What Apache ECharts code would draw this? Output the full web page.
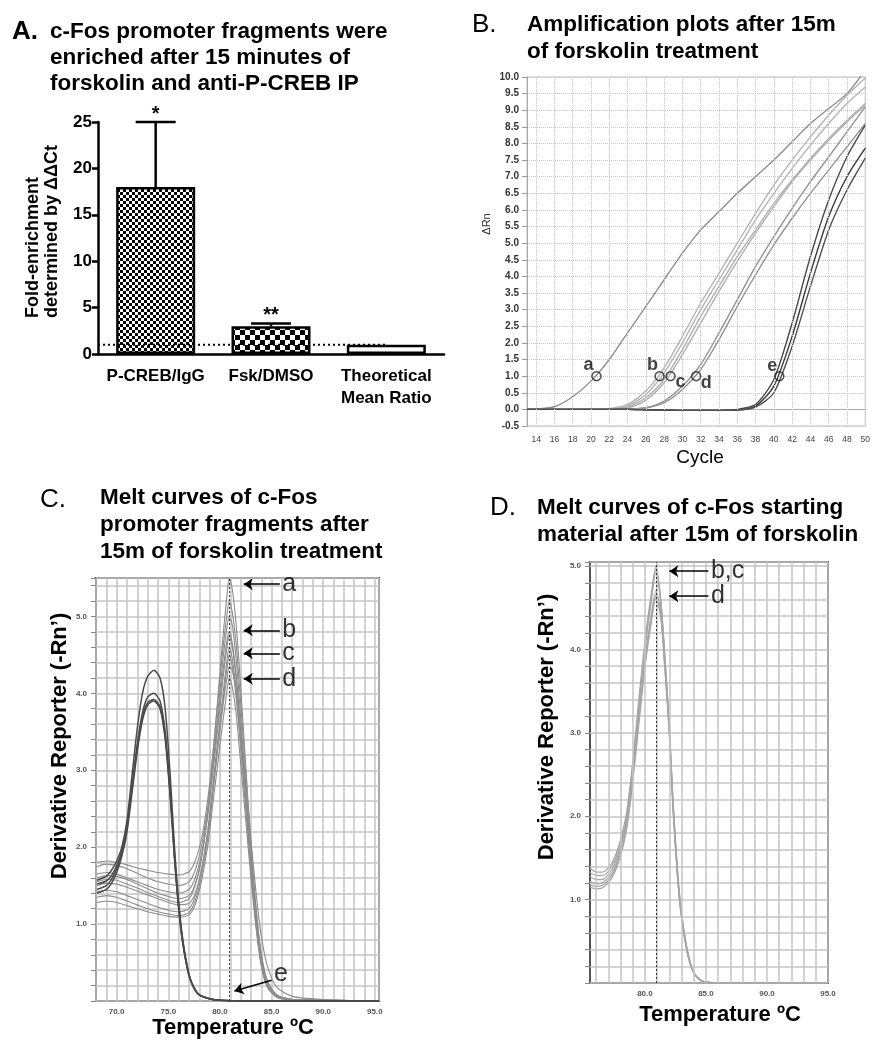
<!DOCTYPE html>
<html><head><meta charset="utf-8">
<script src="https://cdn.jsdelivr.net/npm/echarts@6/dist/echarts.min.js"></script>
<style>html,body{margin:0;padding:0;background:#fff}#c{width:873px;height:1050px}</style>
</head><body><div id="c"></div>
<script>
// ---------- Panel A data ----------
const catA = ['P-CREB/IgG', 'Fsk/DMSO', 'Theoretical\nMean Ratio'];
const valA = [18, 3, 1];
const errHiA = [25, 3.3, null];
const starA = ['*', '**', ''];
const refLineA = 1;

// ---------- Panel B data (amplification) ----------
const cycB = [13, 14, 16, 18, 20, 22, 24, 26, 28, 30, 32, 34, 36, 38, 40, 42, 44, 46, 48, 50];
const ampA  = [0, 0.01, 0.08, 0.38, 0.85, 1.5, 2.3, 3.1, 3.9, 4.7, 5.4, 5.95, 6.5, 7.0, 7.5, 8.05, 8.6, 9.05, 9.5, 10.2];
const ampB1 = [0, 0, 0, 0, 0, 0.02, 0.15, 0.55, 1.25, 2.2, 3.2, 4.1, 5.0, 5.9, 6.75, 7.5, 8.2, 8.85, 9.45, 9.97];
const ampB2 = [0, 0, 0, 0, 0, 0.01, 0.1, 0.45, 1.1, 2.0, 3.0, 3.9, 4.8, 5.7, 6.5, 7.25, 7.95, 8.6, 9.2, 9.7];
const ampC1 = [0, 0, 0, 0, 0, 0.01, 0.06, 0.35, 0.9, 1.8, 2.8, 3.7, 4.6, 5.4, 6.2, 6.9, 7.55, 8.15, 8.7, 9.2];
const ampC2 = [0, 0, 0, 0, 0, 0, 0.04, 0.28, 0.8, 1.65, 2.6, 3.55, 4.45, 5.3, 6.1, 6.85, 7.5, 8.1, 8.65, 9.15];
const ampD1 = [0, 0, 0, 0, 0, 0, 0.01, 0.05, 0.25, 0.7, 1.35, 2.3, 3.3, 4.3, 5.2, 6.05, 6.85, 7.6, 8.35, 9.1];
const ampD2 = [0, 0, 0, 0, 0, 0, 0.01, 0.04, 0.2, 0.6, 1.2, 2.1, 3.1, 4.05, 4.95, 5.75, 6.5, 7.2, 7.9, 8.6];
const ampE1 = [0, 0, 0, 0, 0, 0, 0, -0.01, -0.02, -0.03, -0.03, -0.03, 0, 0.15, 0.9, 2.6, 4.6, 6.3, 7.6, 8.55];
const ampE2 = [0, 0, 0, 0, 0, 0, 0, -0.01, -0.02, -0.03, -0.03, -0.03, -0.02, 0.1, 0.7, 2.2, 4.1, 5.8, 7.0, 7.86];
const ampE3 = [0, 0, 0, 0, 0, 0, 0, -0.01, -0.02, -0.03, -0.03, -0.03, -0.02, 0.07, 0.5, 1.9, 3.7, 5.4, 6.6, 7.56];
const ctLabels = ['a', 'b', 'c', 'd', 'e'];
const ctCycles = [20.6, 27.5, 28.7, 31.5, 40.6];
const threshB = 1.0;
const xTicksB = [14, 16, 18, 20, 22, 24, 26, 28, 30, 32, 34, 36, 38, 40, 42, 44, 46, 48, 50];

// ---------- Panel C data (melt curves, promoter fragments) ----------
const tDark = [68.1, 69, 69.5, 70, 70.5, 71, 71.5, 72, 72.5, 73, 73.6, 74.2, 74.7, 75.2, 75.6, 76, 76.4, 77, 77.5, 78, 79, 80, 82, 95.4];
const cK1 = [1.57, 1.62, 1.7, 1.82, 2.0, 2.35, 2.95, 3.55, 4.0, 4.22, 4.3, 4.2, 3.8, 2.9, 2.0, 1.3, 0.8, 0.35, 0.17, 0.08, 0.03, 0.01, 0, 0];
const cK2 = [1.45, 1.5, 1.58, 1.72, 1.92, 2.25, 2.8, 3.35, 3.75, 3.95, 4.0, 3.9, 3.5, 2.7, 1.9, 1.25, 0.78, 0.34, 0.17, 0.08, 0.03, 0.01, 0, 0];
const cK3 = [1.4, 1.45, 1.53, 1.67, 1.88, 2.2, 2.72, 3.25, 3.65, 3.85, 3.9, 3.8, 3.4, 2.62, 1.85, 1.2, 0.75, 0.33, 0.16, 0.08, 0.03, 0.01, 0, 0];
const cK4 = [1.52, 1.56, 1.63, 1.76, 1.95, 2.28, 2.78, 3.3, 3.7, 3.88, 3.92, 3.83, 3.45, 2.66, 1.88, 1.22, 0.76, 0.33, 0.16, 0.08, 0.03, 0.01, 0, 0];
const tLight = [68.1, 69, 70, 71, 72, 73, 74, 75, 76, 77, 77.6, 78.2, 78.8, 79.3, 79.8, 80.3, 80.7, 80.9, 81.2, 81.6, 82, 82.5, 83, 83.5, 84, 84.6, 85.5, 87, 90, 95.4];
const cL1 = [1.55, 1.58, 1.57, 1.52, 1.47, 1.41, 1.36, 1.31, 1.28, 1.33, 1.5, 1.85, 2.45, 3.15, 3.95, 4.75, 5.3, 5.5, 5.35, 4.85, 4.1, 3.05, 2.05, 1.2, 0.6, 0.25, 0.08, 0.02, 0.01, 0];
const cL2 = [1.8, 1.82, 1.8, 1.77, 1.73, 1.7, 1.67, 1.65, 1.64, 1.68, 1.82, 2.1, 2.6, 3.2, 3.9, 4.6, 5.05, 5.2, 5.05, 4.6, 3.9, 2.95, 2.0, 1.2, 0.62, 0.26, 0.08, 0.02, 0.01, 0];
const cL3 = [1.75, 1.78, 1.76, 1.72, 1.66, 1.6, 1.55, 1.52, 1.5, 1.55, 1.7, 2.0, 2.5, 3.05, 3.65, 4.3, 4.7, 4.8, 4.65, 4.2, 3.55, 2.7, 1.85, 1.1, 0.55, 0.22, 0.07, 0.02, 0.01, 0];
const cL4 = [1.65, 1.67, 1.65, 1.6, 1.55, 1.5, 1.45, 1.42, 1.4, 1.45, 1.6, 1.9, 2.4, 2.95, 3.55, 4.2, 4.62, 4.75, 4.6, 4.15, 3.5, 2.65, 1.8, 1.05, 0.5, 0.2, 0.06, 0.02, 0.01, 0];
const cL5 = [1.42, 1.44, 1.42, 1.37, 1.32, 1.27, 1.22, 1.18, 1.16, 1.2, 1.36, 1.7, 2.2, 2.8, 3.4, 4.0, 4.45, 4.6, 4.45, 4.0, 3.4, 2.55, 1.75, 1.0, 0.48, 0.18, 0.05, 0.01, 0, 0];
const cL6 = [1.35, 1.37, 1.35, 1.3, 1.25, 1.2, 1.16, 1.13, 1.11, 1.15, 1.3, 1.62, 2.1, 2.7, 3.3, 3.9, 4.35, 4.5, 4.35, 3.9, 3.3, 2.5, 1.7, 0.98, 0.47, 0.18, 0.05, 0.01, 0, 0];
const cL7 = [1.28, 1.3, 1.28, 1.24, 1.2, 1.16, 1.13, 1.1, 1.09, 1.12, 1.25, 1.55, 2.0, 2.55, 3.1, 3.65, 4.05, 4.2, 4.08, 3.7, 3.1, 2.35, 1.6, 0.95, 0.47, 0.2, 0.07, 0.02, 0.01, 0];
const cL8 = [1.5, 1.53, 1.52, 1.48, 1.43, 1.38, 1.33, 1.28, 1.25, 1.27, 1.4, 1.7, 2.15, 2.7, 3.3, 3.85, 4.22, 4.35, 4.3, 4.0, 3.5, 2.85, 2.1, 1.4, 0.85, 0.45, 0.18, 0.06, 0.02, 0];
const cL9 = [1.6, 1.63, 1.62, 1.58, 1.52, 1.46, 1.4, 1.36, 1.33, 1.37, 1.52, 1.85, 2.4, 3.05, 3.75, 4.45, 4.88, 5.0, 4.88, 4.4, 3.7, 2.8, 1.9, 1.12, 0.55, 0.22, 0.07, 0.02, 0.01, 0];
const tmC = 80.9;
const annC = [{t: 'a', y: 5.42}, {t: 'b', y: 4.82}, {t: 'c', y: 4.52}, {t: 'd', y: 4.19}];
const annCx = [85.8, 82.3];
const annCe = {t: 'e', from: [85.0, 0.27], to: [81.4, 0.13]};

// ---------- Panel D data (melt curves, starting material) ----------
const tD = [75.5, 76, 76.5, 77, 77.5, 78, 78.5, 79, 79.5, 80, 80.5, 80.9, 81.3, 81.6, 82, 82.3, 82.7, 83, 83.5, 84, 84.5, 85, 86, 90, 95];
const dM1 = [1.38, 1.33, 1.33, 1.38, 1.5, 1.72, 2.05, 2.65, 3.4, 4.1, 4.65, 5.0, 4.6, 4.0, 3.1, 2.2, 1.3, 0.85, 0.38, 0.13, 0.04, 0.01, 0, 0, 0];
const dM2 = [1.33, 1.29, 1.29, 1.34, 1.46, 1.68, 2.0, 2.6, 3.35, 4.05, 4.6, 4.98, 4.58, 3.98, 3.08, 2.18, 1.28, 0.83, 0.37, 0.13, 0.04, 0.01, 0, 0, 0];
const dM3 = [1.28, 1.24, 1.24, 1.3, 1.42, 1.64, 1.96, 2.55, 3.3, 4.0, 4.55, 4.93, 4.55, 3.95, 3.05, 2.15, 1.26, 0.82, 0.36, 0.12, 0.04, 0.01, 0, 0, 0];
const dM4 = [1.22, 1.19, 1.2, 1.26, 1.38, 1.6, 1.92, 2.5, 3.2, 3.88, 4.4, 4.7, 4.45, 3.9, 3.02, 2.12, 1.24, 0.8, 0.35, 0.12, 0.04, 0.01, 0, 0, 0];
const dM5 = [1.18, 1.16, 1.17, 1.23, 1.35, 1.56, 1.88, 2.45, 3.15, 3.82, 4.35, 4.65, 4.4, 3.85, 3.0, 2.1, 1.22, 0.79, 0.34, 0.12, 0.04, 0.01, 0, 0, 0];
const dM6 = [1.15, 1.13, 1.14, 1.2, 1.32, 1.52, 1.84, 2.4, 3.1, 3.78, 4.3, 4.62, 4.38, 3.83, 2.98, 2.08, 1.2, 0.78, 0.34, 0.12, 0.04, 0.01, 0, 0, 0];
const tmD = 80.9;
const annD = [{t: 'b,c', y: 4.94}, {t: 'd', y: 4.64}];
const annDx = [85.2, 82.0];
const xTicksD = [76, 77, 78, 79, 80, 81, 82, 83, 84, 85, 86, 87, 88, 89, 90, 91, 92, 93, 94, 95];

// ---------- helpers ----------
const FF = "'Liberation Sans', Arial, Helvetica, sans-serif";
const SMOOTH = 0.25;
const zip = (xs, ys) => xs.map((x, i) => [x, ys[i]]);
function checker(cell, c1, c2) {
  const cv = document.createElement('canvas');
  cv.width = cv.height = cell * 2;
  const g = cv.getContext('2d');
  g.fillStyle = c2; g.fillRect(0, 0, cell * 2, cell * 2);
  g.fillStyle = c1; g.fillRect(0, 0, cell, cell); g.fillRect(cell, cell, cell, cell);
  return cv;
}
const patFine = checker(3, '#000', '#fff');
const patCoarse = checker(5, '#000', '#fff');

function txt(x, y, text, size, weight, extra) {
  return Object.assign({type: 'text', x: x, y: y, silent: true,
    style: Object.assign({text: text, font: weight + ' ' + size + 'px ' + FF, fill: '#000', align: 'left', verticalAlign: 'middle'}, extra && extra.style || {})},
    extra && extra.el || {});
}

const chart = echarts.init(document.getElementById('c'), null, {renderer: 'canvas'});

const series = [];
// ---- A ----
series.push({type: 'line', xAxisIndex: 1, yAxisIndex: 0, data: [[0, refLineA], [2.5, refLineA]], symbol: 'none',
  lineStyle: {color: '#000', width: 2, type: [2, 3]}, silent: true});
series.push({type: 'bar', xAxisIndex: 0, yAxisIndex: 0, barWidth: 79,
  data: valA.map((v, i) => ({value: v, itemStyle: {
    color: i === 0 ? {image: patFine, repeat: 'repeat'} : i === 1 ? {image: patCoarse, repeat: 'repeat'} : '#fff',
    borderColor: '#000', borderWidth: 2.5}}))});
const errData = [], errStar = [];
errHiA.forEach((h, i) => { if (h != null) { errData.push([i, valA[i], h]); errStar.push(starA[i]); } });
series.push({type: 'custom', xAxisIndex: 0, yAxisIndex: 0, data: errData, silent: true,
  renderItem: function (params, api) {
    const top = api.coord([api.value(0), api.value(1)]);
    const hi = api.coord([api.value(0), api.value(2)]);
    const st = {stroke: '#000', lineWidth: 2.5};
    return {type: 'group', children: [
      {type: 'line', shape: {x1: top[0], y1: top[1], x2: hi[0], y2: hi[1]}, style: st},
      {type: 'line', shape: {x1: hi[0] - 20, y1: hi[1], x2: hi[0] + 20, y2: hi[1]}, style: st},
      {type: 'text', x: hi[0], y: hi[1] + 2, style: {text: errStar[params.dataIndex], font: 'bold 20px ' + FF, fill: '#000', align: 'center', verticalAlign: 'bottom'}}
    ]};
  }});

// ---- B ----
series.push({type: 'line', xAxisIndex: 2, yAxisIndex: 1, data: [], silent: true, z: 1,
  markLine: {silent: true, symbol: ['none', 'none'], animation: false, label: {show: false},
    lineStyle: {color: '#c8c8c8', type: 'dotted', width: 1}, data: xTicksB.map(v => ({xAxis: v}))}});
const ampSets = [[ampA, '#8e8e8e'], [ampB1, '#b4b4b4'], [ampB2, '#b4b4b4'], [ampC1, '#b0b0b0'], [ampC2, '#b0b0b0'],
  [ampD1, '#949494'], [ampD2, '#949494'], [ampE1, '#4a4a4a'], [ampE2, '#3a3a3a'], [ampE3, '#505050']];
ampSets.forEach(s => series.push({type: 'line', xAxisIndex: 2, yAxisIndex: 1, data: zip(cycB, s[0]), symbol: 'none',
  smooth: SMOOTH, lineStyle: {color: s[1], width: 1.4}, silent: true, z: 3}));
const ctOffsets = [[-8, -11], [-7, -11], [10, 6], [10, 7], [-7, -10]];
series.push({type: 'scatter', xAxisIndex: 2, yAxisIndex: 1, z: 5, symbol: 'circle', symbolSize: 9,
  itemStyle: {color: 'rgba(255,255,255,0)', borderColor: '#222', borderWidth: 1.5},
  data: ctCycles.map((c, i) => ({value: [c, threshB], label: {show: true, position: 'inside', offset: ctOffsets[i],
    formatter: ctLabels[i], fontSize: 18, fontWeight: 'bold', fontFamily: FF, color: '#111'}}))});

// ---- C ----
[cL1, cL2, cL3, cL4, cL5, cL6, cL7, cL8, cL9].forEach(v => series.push({type: 'line', xAxisIndex: 3, yAxisIndex: 2,
  data: zip(tLight, v), symbol: 'none', smooth: SMOOTH, lineStyle: {color: '#8c8c8c', width: 1.1}, silent: true, z: 3}));
[cK1, cK2, cK3, cK4].forEach(v => series.push({type: 'line', xAxisIndex: 3, yAxisIndex: 2,
  data: zip(tDark, v), symbol: 'none', smooth: SMOOTH, lineStyle: {color: '#4a4a4a', width: 1.5}, silent: true, z: 3}));
series.push({type: 'line', xAxisIndex: 3, yAxisIndex: 2, data: [], silent: true, z: 4,
  markLine: {silent: true, symbol: ['none', 'none'], animation: false, label: {show: false},
    lineStyle: {color: '#333', type: [2, 2], width: 1}, data: [{xAxis: tmC}]}});
series.push({type: 'lines', coordinateSystem: 'cartesian2d', xAxisIndex: 3, yAxisIndex: 2, z: 6, silent: true,
  symbol: ['none', 'arrow'], symbolSize: 9, lineStyle: {color: '#000', width: 1.5, opacity: 1},
  data: annC.map(a => ({coords: [[annCx[0], a.y], [annCx[1], a.y]]})).concat([{coords: [annCe.from, annCe.to]}])});
series.push({type: 'scatter', xAxisIndex: 3, yAxisIndex: 2, z: 6, symbolSize: 1, silent: true, itemStyle: {color: 'rgba(0,0,0,0)'},
  label: {show: true, position: 'right', distance: 2, fontSize: 25, fontFamily: FF, color: '#000', formatter: p => p.name},
  data: annC.map(a => ({name: a.t, value: [annCx[0], a.y]})).concat([{name: annCe.t, value: [annCe.from[0], annCe.from[1] + 0.08]}])});

// ---- D ----
series.push({type: 'line', xAxisIndex: 4, yAxisIndex: 3, data: [], silent: true, z: 1,
  markLine: {silent: true, symbol: ['none', 'none'], animation: false, label: {show: false},
    lineStyle: {color: '#c4c4c4', type: 'solid', width: 1.5}, data: xTicksD.map(v => ({xAxis: v}))}});
[dM1, dM2, dM3, dM4, dM5, dM6].forEach(v => series.push({type: 'line', xAxisIndex: 4, yAxisIndex: 3,
  data: zip(tD, v), symbol: 'none', smooth: SMOOTH, lineStyle: {color: '#a6a6a6', width: 1.2}, silent: true, z: 3}));
series.push({type: 'line', xAxisIndex: 4, yAxisIndex: 3, data: [], silent: true, z: 4,
  markLine: {silent: true, symbol: ['none', 'none'], animation: false, label: {show: false},
    lineStyle: {color: '#333', type: [2, 2], width: 1}, data: [{xAxis: tmD}]}});
series.push({type: 'lines', coordinateSystem: 'cartesian2d', xAxisIndex: 4, yAxisIndex: 3, z: 6, silent: true,
  symbol: ['none', 'arrow'], symbolSize: 9, lineStyle: {color: '#000', width: 1.5, opacity: 1},
  data: annD.map(a => ({coords: [[annDx[0], a.y], [annDx[1], a.y]]}))});
series.push({type: 'scatter', xAxisIndex: 4, yAxisIndex: 3, z: 6, symbolSize: 1, silent: true, itemStyle: {color: 'rgba(0,0,0,0)'},
  label: {show: true, position: 'right', distance: 2, fontSize: 25, fontFamily: FF, color: '#000', formatter: p => p.name},
  data: annD.map(a => ({name: a.t, value: [annDx[0], a.y]}))});

const isInt = v => Math.abs(v - Math.round(v)) < 1e-6;
const meltGrid = {show: true, lineStyle: {color: '#c4c4c4', width: 1.5}};
const meltLbl = {fontSize: 8, fontWeight: 'bold', color: '#555', fontFamily: FF};

const option = {
  animation: false,
  backgroundColor: '#fff',
  grid: [
    {left: 98, top: 122, width: 346, height: 232},
    {left: 527, top: 77, width: 339, height: 349, show: true, borderColor: '#bdbdbd', borderWidth: 1},
    {left: 96, top: 578, width: 283, height: 423, show: true, borderColor: '#555', borderWidth: 2},
    {left: 590, top: 562, width: 238, height: 421, show: true, borderColor: '#555', borderWidth: 2}
  ],
  xAxis: [
    {type: 'category', gridIndex: 0, data: catA, boundaryGap: true,
      axisLine: {lineStyle: {color: '#000', width: 2.5}},
      axisTick: {alignWithLabel: true, length: 5, lineStyle: {color: '#000', width: 2.5}},
      axisLabel: {margin: 11, fontSize: 17, fontWeight: 'bold', fontFamily: FF, color: '#000', lineHeight: 22, interval: 0}},
    {type: 'value', gridIndex: 0, min: 0, max: 3, show: false},
    {type: 'value', gridIndex: 1, min: 13, max: 50, interval: 1,
      axisLine: {lineStyle: {color: '#aaa', width: 1}}, axisTick: {show: false}, splitLine: {show: false},
      axisLabel: {margin: 9, fontSize: 8.5, color: '#444', fontFamily: FF, showMaxLabel: true,
        formatter: v => (isInt(v) && Math.round(v) % 2 === 0) ? String(Math.round(v)) : ''}},
    {type: 'value', gridIndex: 2, min: 68, max: 95.4, interval: 1,
      axisLine: {show: false}, axisTick: {show: false}, splitLine: meltGrid,
      axisLabel: Object.assign({margin: 7, showMaxLabel: true, formatter: v => (isInt(v) && Math.round(v) % 5 === 0) ? v.toFixed(1) : ''}, meltLbl)},
    {type: 'value', gridIndex: 3, min: 75.5, max: 95, interval: 0.5,
      axisLine: {show: false}, axisTick: {show: false}, splitLine: {show: false},
      axisLabel: Object.assign({margin: 7, showMaxLabel: true, formatter: v => (isInt(v) && Math.round(v) % 5 === 0) ? v.toFixed(1) : ''}, meltLbl)}
  ],
  yAxis: [
    {type: 'value', gridIndex: 0, min: 0, max: 25, interval: 5,
      axisLine: {show: true, lineStyle: {color: '#000', width: 2.5}},
      axisTick: {show: true, length: 6, lineStyle: {color: '#000', width: 2.5}},
      splitLine: {show: false},
      axisLabel: {margin: 6, fontSize: 17, fontWeight: 'bold', fontFamily: FF, color: '#000'}},
    {type: 'value', gridIndex: 1, min: -0.5, max: 10, interval: 0.5,
      axisLine: {show: true, lineStyle: {color: '#aaa', width: 1}},
      axisTick: {show: true, length: 5, lineStyle: {color: '#999'}},
      splitLine: {show: true, lineStyle: {color: '#c8c8c8', type: 'dotted', width: 1}},
      axisLabel: {margin: 8, fontSize: 10, fontWeight: 'bold', fontFamily: FF, color: '#333', formatter: v => v.toFixed(1)}},
    {type: 'value', gridIndex: 2, min: 0, max: 5.5, interval: 0.2,
      axisLine: {show: false}, axisTick: {show: true, length: 5, lineStyle: {color: '#888', width: 1}}, splitLine: meltGrid,
      axisLabel: Object.assign({margin: 9, formatter: v => (isInt(v) && v > 0.5) ? v.toFixed(1) : ''}, meltLbl)},
    {type: 'value', gridIndex: 3, min: 0, max: 5.05, interval: 0.2,
      axisLine: {show: false}, axisTick: {show: true, length: 5, lineStyle: {color: '#888', width: 1}}, splitLine: meltGrid,
      axisLabel: Object.assign({margin: 9, formatter: v => (isInt(v) && v > 0.5) ? v.toFixed(1) : ''}, meltLbl)}
  ],
  series: series,
  graphic: [
    txt(12, 32, 'A.', 26, 'bold'),
    txt(50, 19, 'c-Fos promoter fragments were\nenriched after 15 minutes of\nforskolin and anti-P-CREB IP', 22.5, 'bold', {style: {verticalAlign: 'top', lineHeight: 26}}),
    txt(33, 318, 'Fold-enrichment', 18, 'bold', {el: {rotation: Math.PI / 2}}),
    txt(52, 318, 'determined by \u0394\u0394Ct', 18, 'bold', {el: {rotation: Math.PI / 2}}),

    txt(472, 25, 'B.', 26, 'normal'),
    txt(527, 11.5, 'Amplification plots after 15m\nof forskolin treatment', 22.5, 'bold', {style: {verticalAlign: 'top', lineHeight: 27}}),
    txt(487, 224, '\u0394Rn', 11, 'normal', {style: {align: 'center', fill: '#333'}, el: {rotation: Math.PI / 2}}),
    txt(700, 458, 'Cycle', 19, 'normal', {style: {align: 'center'}}),

    txt(40, 500, 'C.', 26, 'normal'),
    txt(100, 484.5, 'Melt curves of c-Fos\npromoter fragments after\n15m of forskolin treatment', 22.5, 'bold', {style: {verticalAlign: 'top', lineHeight: 27}}),
    txt(60, 746, 'Derivative Reporter (-Rn\u2019)', 22, 'bold', {style: {align: 'center'}, el: {rotation: Math.PI / 2}}),
    txt(233, 1028, 'Temperature \u00baC', 22, 'bold', {style: {align: 'center'}}),

    txt(490, 508, 'D.', 26, 'normal'),
    txt(537, 494.5, 'Melt curves of c-Fos starting\nmaterial after 15m of forskolin', 22.5, 'bold', {style: {verticalAlign: 'top', lineHeight: 27}}),
    txt(547, 727, 'Derivative Reporter (-Rn\u2019)', 22, 'bold', {style: {align: 'center'}, el: {rotation: Math.PI / 2}}),
    txt(720, 1015, 'Temperature \u00baC', 22, 'bold', {style: {align: 'center'}})
  ]
};
chart.setOption(option);
</script>
</body></html>
